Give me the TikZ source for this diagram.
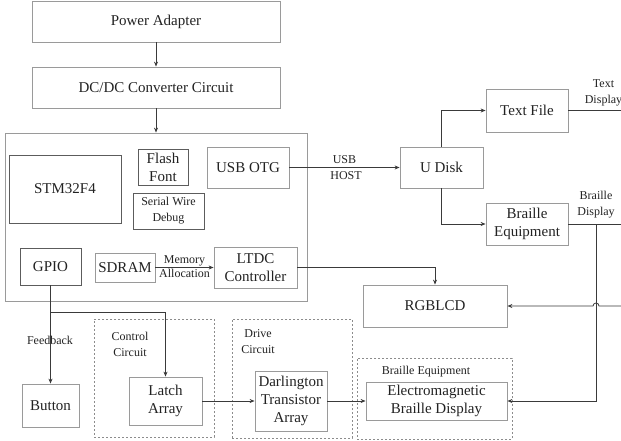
\documentclass[tikz,border=0pt]{standalone}
\usepackage{fontspec}
\setmainfont{Liberation Serif}
\usetikzlibrary{arrows.meta, positioning, calc}
\definecolor{cline}{HTML}{3A3A3A}
\definecolor{cbox}{HTML}{9A9A9A}
\definecolor{cdark}{HTML}{5C5C5C}
\definecolor{cdash}{HTML}{8C8C8C}
\definecolor{ctext}{HTML}{222222}
\tikzset{
  every picture/.style={line width=0.8pt},
  blk/.style={draw=#1, align=center, inner sep=2pt, text=ctext, font=\fontsize{15}{18}\selectfont},
  blk/.default=cbox,
  grp/.style={draw=cdash, line width=0.6pt, dash pattern=on 2pt off 2pt},
  arrow/.style={-{Stealth[length=5pt, width=4pt]}, draw=cline},
  wire/.style={draw=cline},
  lbl/.style={font=\fontsize{12}{16}\selectfont, align=center, text=ctext, inner sep=1.5pt},
}

\begin{document}
\begin{tikzpicture}[x=1pt, y=-1pt]
  \useasboundingbox (0,0) rectangle (621,441);
  % power supply chain
  \node[blk, minimum width=248pt, minimum height=41pt] (power) at (156,21.5) {Power Adapter};
  \node[blk, minimum width=248pt, minimum height=41pt] (dcdc) at (156,87.5) {DC/DC Converter Circuit};
  % main board
  \node[blk, minimum width=302pt, minimum height=168pt] (mcu) at (156,217) {};
  \node[blk=cdark, minimum width=112pt, minimum height=68pt] (stm) at (65,189) {STM32F4};
  \node[blk=cdark, minimum width=50pt, minimum height=36pt] (flash) at (163,167) {Flash\\Font};
  \node[blk=cdark, minimum width=71pt, minimum height=36pt, font=\fontsize{12}{16}\selectfont] (swd) at (168.5,211) {Serial Wire\\Debug};
  \node[blk, minimum width=82pt, minimum height=41pt] (usbotg) at (248,167.5) {USB OTG};
  \node[blk=cdark, minimum width=61pt, minimum height=37pt] (gpio) at (50.5,266.5) {GPIO};
  \node[blk, minimum width=60pt, minimum height=29pt] (sdram) at (125,267.5) {SDRAM};
  \node[blk, minimum width=83pt, minimum height=41pt] (ltdc) at (255.5,267.5) {LTDC\\Controller};
  % storage and outputs
  \node[blk, minimum width=83pt, minimum height=41pt] (udisk) at (441.5,167.5) {U Disk};
  \node[blk, minimum width=82pt, minimum height=43pt] (textfile) at (527,110.5) {Text File};
  \node[blk, minimum width=82pt, minimum height=42pt] (brleq) at (527,224) {Braille\\Equipment};
  \node[blk, minimum width=144pt, minimum height=42pt] (rgblcd) at (435,306) {RGBLCD};
  % dashed groups
  \node[grp, minimum width=120pt, minimum height=118pt] (ctrlgrp) at (154,378) {};
  \node[grp, minimum width=120pt, minimum height=119pt] (drvgrp) at (292,378.5) {};
  \node[grp, minimum width=155pt, minimum height=81pt] (brlgrp) at (434.5,398.5) {};
  \node[lbl] (ctrllbl) at (130,344) {Control\\Circuit};
  \node[lbl] (drvlbl) at (258,342) {Drive\\Circuit};
  \node[lbl] (brllbl) at (426,372) {Braille Equipment};
  \node[blk, minimum width=57pt, minimum height=43pt] (button) at (50.5,405.5) {Button};
  \node[blk, minimum width=73pt, minimum height=48pt] (latch) at (165.5,401) {Latch\\Array};
  \node[blk, minimum width=72pt, minimum height=60pt] (darl) at (291,401) {Darlington\\Transistor\\Array};
  \node[blk, minimum width=141pt, minimum height=38pt] (emb) at (436.5,401) {Electromagnetic\\Braille Display};
  % free ends
  \coordinate (txtend) at (625,110.5);
  \coordinate (brlend) at (625,224);
  \coordinate (bdsp) at (596,224);
  \coordinate (lcdin) at (625,306);
  \coordinate (hop) at (599,306);
  \coordinate (fork) at (50.5,312);
  % connectors
  \draw[arrow] (power) -- (dcdc);
  \draw[arrow] (dcdc) -- (mcu);
  \draw[arrow] (usbotg) -- node[lbl, above=2pt] {USB} node[lbl, below=2pt, xshift=1.5pt] {HOST} (udisk);
  \draw[arrow] (udisk) |- (textfile);
  \draw[arrow] (udisk) |- (brleq);
  \draw[wire] (textfile) -- node[lbl, above=3pt, pos=0.62] {Text\\Display} (txtend);
  \draw[wire] (brleq) -- (brlend);
  \node[lbl, above=4pt] (bdsplbl) at (bdsp) {Braille\\Display};
  \draw[arrow] (bdsp) |- (emb);
  \draw[arrow] (lcdin) -- (hop) arc[start angle=0, end angle=180, radius=3pt] -- (rgblcd);
  \draw[arrow] (ltdc) -| (rgblcd);
  \draw[arrow] (sdram) -- node[lbl, above] {Memory} node[lbl, below] {Allocation} (ltdc);
  \draw[arrow] (gpio) -- (button);
  \draw[arrow] (fork) -| (latch);
  \node[lbl] (fbk) at (50,340) {Feedback};
  \draw[arrow] (latch) -- (darl);
  \draw[arrow] (darl) -- (emb);
\end{tikzpicture}
\end{document}
